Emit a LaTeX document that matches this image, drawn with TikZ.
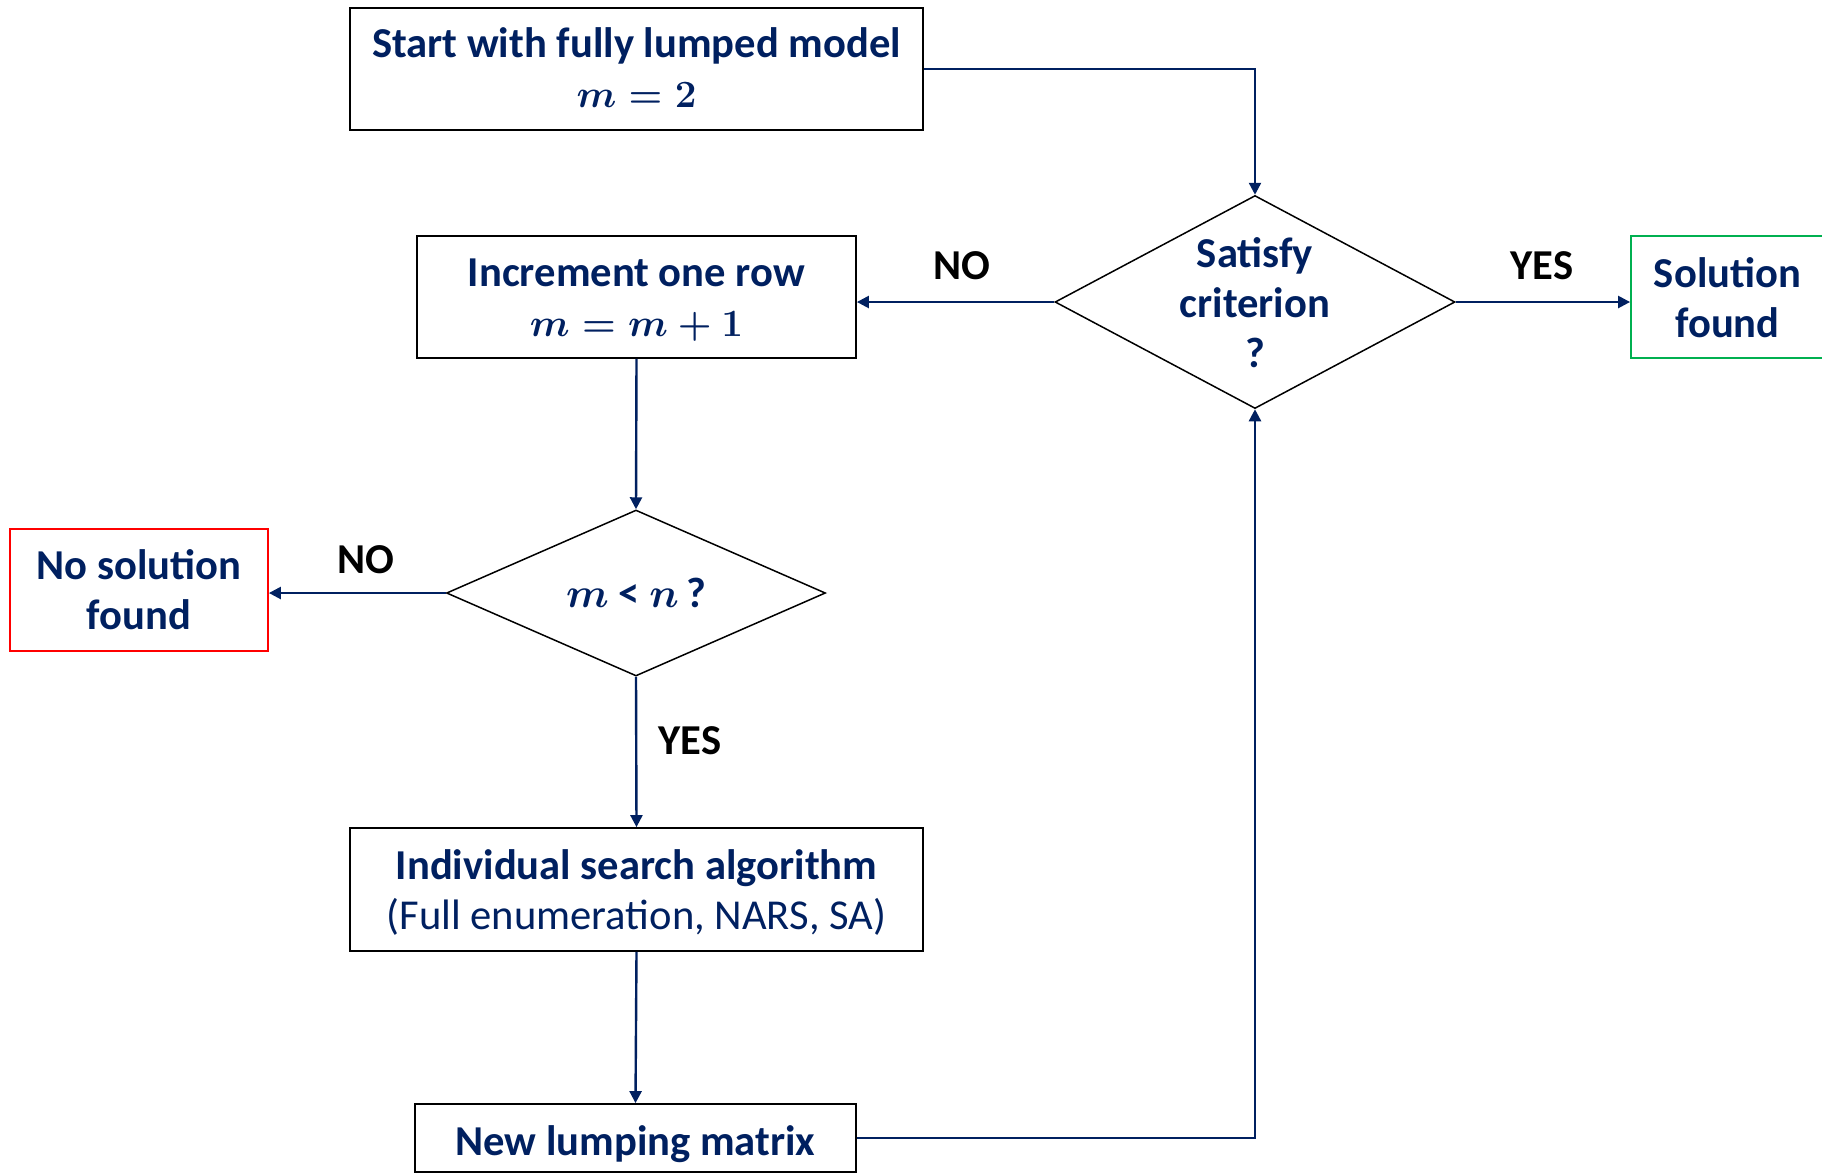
\RequirePackage{fix-cm}
\documentclass[tikz,border=0pt]{standalone}
\usepackage[no-math]{fontspec}
\setmainfont{Carlito}
\usetikzlibrary{shapes.geometric,arrows.meta,calc}
\definecolor{navy}{RGB}{0,32,96}
\definecolor{okgreen}{RGB}{0,176,80}
\definecolor{badred}{RGB}{255,0,0}
\newcommand{\mathline}[1]{{\fontsize{19.3}{25}\selectfont\boldmath$#1$}}
\begin{document}
\begin{tikzpicture}[x=0.5pt,y=-0.5pt,
  every node/.style={font=\fontsize{21.3}{25}\selectfont\bfseries},
  box/.style={draw=black,line width=0.9pt,rectangle,inner sep=0pt},
  decision/.style={draw=black,line width=0.75pt,diamond,inner sep=0pt},
  inner/.style={text=navy,align=center,inner sep=0pt},
  flow/.style={draw=navy,line width=1.2pt,-{Triangle[length=6pt,width=6pt]}},
  answer/.style={text=black,inner sep=0pt}]
  \clip (0,0) rectangle (1822,1175);
  % process boxes
  \node[box,minimum width=286.5pt,minimum height=61pt] (start) at (636.5,69) {};
  \node[inner] (starttext) at ($(start)+(0,-1)$) {Start with fully lumped model\\\mathline{m=2}};
  \node[box,minimum width=219.5pt,minimum height=61pt] (inc) at (636.5,297) {};
  \node[inner] (inctext) at ($(inc)+(0,3)$) {Increment one row\\\mathline{m=m+1}};
  \node[box,minimum width=286.5pt,minimum height=61.5pt] (ind) at (636.5,889.5) {};
  \node[inner] (indtext) at ($(ind)+(0,3)$)
    {Individual search algorithm\\{\mdseries(Full enumeration, NARS, SA)}};
  \node[box,minimum width=220.5pt,minimum height=34pt] (new) at (635.5,1138) {};
  \node[inner] (newtext) at ($(new)+(0,6)$) {New lumping matrix};
  % end states
  \node[box,draw=okgreen,minimum width=100pt,minimum height=61pt] (sol) at (1731,297) {};
  \node[inner] (soltext) at ($(sol)+(-3.5,1)$) {Solution\\found};
  \node[box,draw=badred,minimum width=129pt,minimum height=61pt] (nosol) at (139,590) {};
  \node[inner] (nosoltext) at (nosol) {No solution\\found};
  % decisions
  \node[decision,minimum width=200pt,minimum height=106.5pt] (sat) at (1255,302) {};
  \node[inner] (sattext) at ($(sat)+(0,1)$) {Satisfy\\criterion\\?};
  \node[decision,minimum width=189.5pt,minimum height=83pt] (mn) at (636,593) {};
  \node[inner] (mntext) at (mn)
    {{\fontsize{20.7}{25}\selectfont\boldmath$m$} {\textless} {\fontsize{20.7}{25}\selectfont\boldmath$n$}\,?};
  % connectors
  \draw[flow] (start.east) -| (sat.north);
  \draw[flow] (sat.west) -- (sat.west -| inc.east);
  \draw[flow] (sat.east) -- (sat.east -| sol.west);
  \draw[flow] (inc.south) -- (mn.north);
  \draw[flow] (mn.west) -- (mn.west -| nosol.east);
  \draw[flow] (mn.south) -- (ind.north);
  \draw[flow] (ind.south) -- (new.north);
  \draw[flow] (new.east) -| (sat.south);
  % branch labels
  \node[answer] (noA) at (962,266) {NO};
  \node[answer] (yesA) at (1542,266) {YES};
  \node[answer] (noB) at (366,560) {NO};
  \node[answer] (yesB) at (690,741) {YES};
\end{tikzpicture}
\end{document}
